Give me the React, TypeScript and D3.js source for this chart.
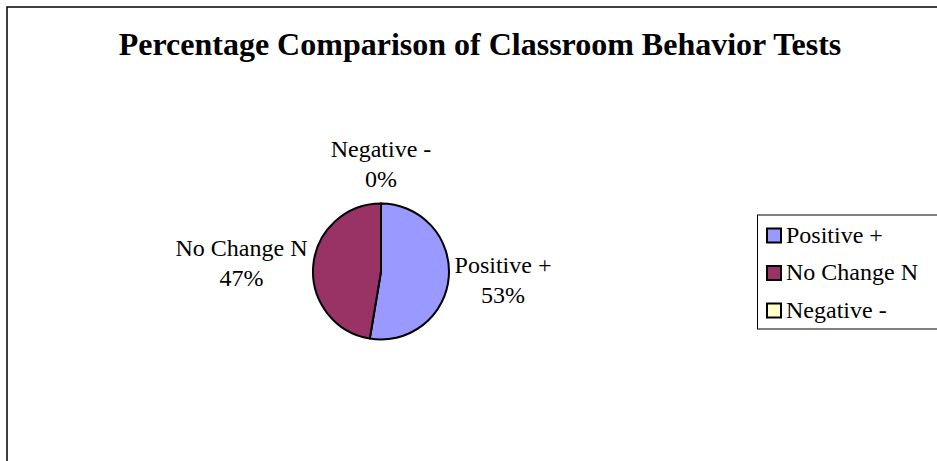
import React from "react";
import * as d3 from "d3";

const categories = ["Positive +", "No Change N", "Negative -"];
const counts = [10, 9, 0];
const colors = ["#9999FF", "#993366", "#FFFFCC"];
const title = "Percentage Comparison of Classroom Behavior Tests";

const W = 937;
const H = 461;
const FONT = "'Liberation Serif', 'Times New Roman', serif";

function textWidth(s: string, size: number) {
  // Times-like metrics approximation for label box placement
  const m: Record<string, number> = {
    P: 0.556, o: 0.5, s: 0.389, i: 0.278, t: 0.278, v: 0.5, e: 0.444, " ": 0.25, "+": 0.564,
    N: 0.722, C: 0.667, h: 0.5, a: 0.444, n: 0.5, g: 0.5, "-": 0.333,
  };
  let w = 0;
  for (const c of s) w += m[c] ?? 0.5;
  return w * size;
}

export default function App() {
  const cx = 381;
  const cy = 271.5;
  const r = 68;
  const total = d3.sum(counts);
  const pie = d3.pie<number>().sort(null).value((d) => d);
  const arcs = pie(counts);
  const arcGen = d3.arc<d3.PieArcDatum<number>>().innerRadius(0).outerRadius(r);
  const pct = d3.format(".0%");
  const fs = 24;

  return (
    <svg width={W} height={H} style={{ display: "block", position: "absolute", left: 0, top: 0 }}>
      <rect x={0} y={0} width={W} height={H} fill="#fff" />
      <rect x={7} y={7} width={1000} height={1000} fill="#fff" stroke="#000" strokeWidth={1.5} />
      <text x={480} y={55} textAnchor="middle" fontFamily={FONT} fontWeight="bold" fontSize={32}>
        {title}
      </text>
      <g transform={`translate(${cx},${cy})`}>
        {arcs.map((a, i) => (
          <path key={i} d={arcGen(a) || ""} fill={colors[i]} stroke="#000" strokeWidth={2} strokeLinejoin="round" />
        ))}
      </g>
      {arcs.map((a, i) => {
        const mid = (a.startAngle + a.endAngle) / 2;
        const rr = r + 6;
        const ax = cx + rr * Math.sin(mid);
        const ay = cy - rr * Math.cos(mid);
        const hw = textWidth(categories[i], fs) / 2;
        const hh = 34;
        const bx = ax + Math.sin(mid) * hw;
        const by = ay - Math.cos(mid) * hh;
        return (
          <text key={i} textAnchor="middle" fontFamily={FONT} fontSize={fs} fill="#000">
            <tspan x={bx} y={by - 7}>{categories[i]}</tspan>
            <tspan x={bx} y={by + 23}>{pct(counts[i] / total)}</tspan>
          </text>
        );
      })}
      <rect x={757.5} y={215} width={300} height={114} fill="#fff" stroke="#000" strokeWidth={1} />
      {categories.map((c, i) => {
        const yc = 235.5 + i * 37.5;
        return (
          <g key={c}>
            <rect x={767} y={yc - 7} width={14} height={14} fill={colors[i]} stroke="#000" strokeWidth={2} />
            <text x={786} y={yc + 7} fontFamily={FONT} fontSize={fs} fill="#000">
              {c}
            </text>
          </g>
        );
      })}
    </svg>
  );
}
